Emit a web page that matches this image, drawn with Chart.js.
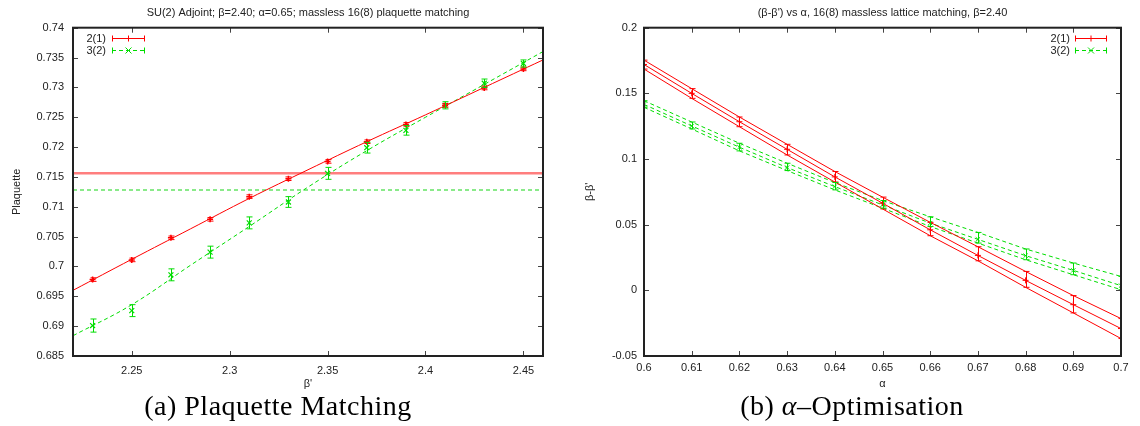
<!DOCTYPE html>
<html><head><meta charset="utf-8">
<script src="https://cdn.jsdelivr.net/npm/chart.js@4.4.0/dist/chart.umd.min.js"></script>
<style>
html,body{margin:0;padding:0;background:#fff;width:1140px;height:426px;overflow:hidden}
.panel{position:absolute;top:0;width:570px;height:426px}
.cap{position:absolute;font-family:"Liberation Serif","DejaVu Serif",serif;font-size:28px;letter-spacing:0.5px;color:#000;white-space:nowrap;transform:translateX(-50%);top:390px;line-height:32px;z-index:5}
</style></head><body>
<div class="panel" style="left:0"><canvas id="c1" width="570" height="426"></canvas></div>
<div class="panel" style="left:570px"><canvas id="c2" width="570" height="426"></canvas></div>
<div class="cap" style="left:278px">(a) Plaquette Matching</div>
<div class="cap" style="left:852px">(b) <i>α</i>–Optimisation</div>
<script>
// ---------- data: panel (a) ----------
const betaPrime = [2.23,2.25,2.27,2.29,2.31,2.33,2.35,2.37,2.39,2.41,2.43,2.45];
const plaq21    = [0.6978,0.7011,0.7048,0.7079,0.7117,0.7147,0.7176,0.7209,0.7238,0.7270,0.7299,0.7331];
const plaq21Err = [0.0003,0.0003,0.0003,0.0003,0.0003,0.0003,0.0003,0.0003,0.0003,0.0003,0.0003,0.0003];
const plaq32    = [0.6901,0.6926,0.6986,0.7024,0.7073,0.7108,0.7156,0.7199,0.7228,0.7270,0.7307,0.7340];
const plaq32Err = [0.0011,0.0010,0.0010,0.0010,0.0010,0.0009,0.0010,0.0009,0.0008,0.0006,0.0007,0.0006];
const fitBeta   = [2.22,2.25,2.28,2.31,2.34,2.37,2.40,2.43,2.46];
const fit21     = [0.6960,0.7012,0.7063,0.7114,0.7162,0.7209,0.7254,0.7300,0.7346];
const fit32     = [0.6884,0.6936,0.7002,0.7067,0.7133,0.7194,0.7250,0.7305,0.7360];
const target21  = 0.7156;
const target32  = 0.7128;
const leftXTicks = [2.25,2.3,2.35,2.4,2.45];
const leftYTicks = [0.685,0.69,0.695,0.7,0.705,0.71,0.715,0.72,0.725,0.73,0.735,0.74];

// ---------- data: panel (b) ----------
const alphaVals = [0.60,0.61,0.62,0.63,0.64,0.65,0.66,0.67,0.68,0.69,0.70];
const dB21   = [0.1720,0.1500,0.1284,0.1074,0.0864,0.0664,0.0461,0.0266,0.0076,-0.0109,-0.0291];
const dB21Hi = [0.1753,0.1536,0.1320,0.1112,0.0905,0.0710,0.0518,0.0332,0.0144,-0.0040,-0.0215];
const dB21Lo = [0.1685,0.1462,0.1246,0.1031,0.0825,0.0620,0.0416,0.0225,0.0023,-0.0172,-0.0367];
const dB32   = [0.1416,0.1252,0.1090,0.0935,0.0790,0.0651,0.0512,0.0388,0.0264,0.0152,0.0036];
const dB32Hi = [0.1444,0.1282,0.1120,0.0968,0.0821,0.0684,0.0560,0.0441,0.0315,0.0208,0.0106];
const dB32Lo = [0.1394,0.1229,0.1062,0.0912,0.0765,0.0626,0.0486,0.0360,0.0233,0.0119,0.0005];
const rightXTicks = [0.6,0.61,0.62,0.63,0.64,0.65,0.66,0.67,0.68,0.69,0.7];
const rightYTicks = [-0.05,0,0.05,0.1,0.15,0.2];

const FONT = '"Liberation Sans", Arial, Helvetica, sans-serif';
const TXT = '#222';
const RED = '#ff0000';
const GREEN = '#00dd00';
const DASH = [4,3];

const pts = (xs, ys) => xs.map((x,i)=>({x, y: ys[i]}));
const fmt = v => String(parseFloat(Number(v).toFixed(4)));

// error bars drawn through the chart scales
const errorBars = {
  id:'errorBars',
  afterDatasetsDraw(chart){
    const {ctx, chartArea:a, scales:{x,y}} = chart;
    ctx.save();
    ctx.beginPath(); ctx.rect(a.left,a.top,a.right-a.left,a.bottom-a.top); ctx.clip();
    chart.data.datasets.forEach(ds=>{
      if(!ds.errLo) return;
      ctx.strokeStyle = ds.errColor; ctx.lineWidth = 1; ctx.setLineDash([]);
      const cap = ds.errCap || 3;
      ds.data.forEach((p,j)=>{
        const px = Math.round(x.getPixelForValue(p.x))+0.5;
        const y1 = y.getPixelForValue(ds.errLo[j]), y2 = y.getPixelForValue(ds.errHi[j]);
        ctx.beginPath();
        ctx.moveTo(px,y1); ctx.lineTo(px,y2);
        ctx.moveTo(px-cap,y1); ctx.lineTo(px+cap,y1);
        ctx.moveTo(px-cap,y2); ctx.lineTo(px+cap,y2);
        ctx.stroke();
      });
    });
    ctx.restore();
  }
};

// gnuplot-like frame with inward ticks on all four sides
const frame = {
  id:'frame',
  afterDraw(chart){
    const {ctx, chartArea:a, scales:{x,y}} = chart;
    ctx.save();
    ctx.strokeStyle = '#444'; ctx.lineWidth = 1; ctx.setLineDash([]);
    const L = 5;
    ctx.beginPath();
    x.ticks.forEach(t=>{
      const px = Math.round(x.getPixelForValue(t.value))+0.5;
      ctx.moveTo(px,a.bottom); ctx.lineTo(px,a.bottom-L);
      ctx.moveTo(px,a.top); ctx.lineTo(px,a.top+L);
    });
    y.ticks.forEach(t=>{
      const py = Math.round(y.getPixelForValue(t.value))+0.5;
      ctx.moveTo(a.left,py); ctx.lineTo(a.left+L,py);
      ctx.moveTo(a.right,py); ctx.lineTo(a.right-L,py);
    });
    ctx.stroke();
    ctx.strokeStyle = '#222'; ctx.lineWidth = 2;
    ctx.strokeRect(a.left,a.top,a.right-a.left,a.bottom-a.top);
    ctx.restore();
  }
};

// gnuplot-style key: text, then a sample with error bar caps and marker
function keyPlugin(items, textRight, x1, x2, y0, dy){
  return {
    id:'key',
    afterDraw(chart){
      const ctx = chart.ctx;
      ctx.save();
      ctx.font = '11px ' + FONT;
      ctx.textAlign = 'right'; ctx.textBaseline = 'middle';
      items.forEach((it,i)=>{
        const yy = Math.round(y0 + i*dy) + 0.5;
        ctx.fillStyle = TXT;
        ctx.fillText(it.text, textRight, yy);
        ctx.strokeStyle = it.color; ctx.lineWidth = 1;
        ctx.setLineDash(it.dash || []);
        ctx.beginPath(); ctx.moveTo(x1,yy); ctx.lineTo(x2,yy); ctx.stroke();
        ctx.setLineDash([]);
        ctx.beginPath();
        ctx.moveTo(x1+0.5,yy-3); ctx.lineTo(x1+0.5,yy+3);
        ctx.moveTo(x2-0.5,yy-3); ctx.lineTo(x2-0.5,yy+3);
        const cx = (x1+x2)/2, r = 3;
        if(it.marker === 'x'){
          ctx.moveTo(cx-r,yy-r); ctx.lineTo(cx+r,yy+r);
          ctx.moveTo(cx-r,yy+r); ctx.lineTo(cx+r,yy-r);
        } else {
          ctx.moveTo(cx,yy-r); ctx.lineTo(cx,yy+r);
        }
        ctx.stroke();
      });
      ctx.restore();
    }
  };
}

function xScale(min,max,ticks,title,pad,titlePad){
  return {
    type:'linear', min, max,
    afterBuildTicks: s => { s.ticks = ticks.map(v=>({value:v})); },
    afterFit: s => { s.height = 70; },
    grid:{display:false, drawTicks:false}, border:{display:false},
    ticks:{padding:pad, color:TXT, font:{family:FONT,size:11}, maxRotation:0, autoSkip:false, callback:v=>fmt(v)},
    title:{display:true, text:title, color:TXT, font:{family:FONT,size:11}, padding:{top:0,bottom:titlePad}}
  };
}
function yScale(min,max,ticks,title,width,pad,titlePad){
  return {
    type:'linear', min, max,
    afterBuildTicks: s => { s.ticks = ticks.map(v=>({value:v})); },
    afterFit: s => { s.width = width; },
    grid:{display:false, drawTicks:false}, border:{display:false},
    ticks:{padding:pad, color:TXT, font:{family:FONT,size:11}, autoSkip:false, callback:v=>fmt(v)},
    title:{display:true, text:title, color:TXT, font:{family:FONT,size:11}, padding:{top:titlePad,bottom:0}}
  };
}
function titleOpts(text){
  return {display:true, text, fullSize:false, color:TXT, font:{family:FONT,size:11,weight:'normal'}, padding:{top:6,bottom:8.5}};
}

// ---------- chart (a) ----------
new Chart(document.getElementById('c1'), {
  type:'scatter',
  data:{datasets:[
    {label:'2(1)', data:pts(betaPrime,plaq21), showLine:false, pointStyle:'cross', pointRadius:3, borderColor:RED, backgroundColor:RED, borderWidth:1.5,
     errLo:plaq21.map((v,i)=>v-plaq21Err[i]), errHi:plaq21.map((v,i)=>v+plaq21Err[i]), errColor:RED, errCap:3},
    {label:'3(2)', data:pts(betaPrime,plaq32), showLine:false, pointStyle:'crossRot', pointRadius:3.5, borderColor:GREEN, backgroundColor:GREEN, borderWidth:1.2,
     errLo:plaq32.map((v,i)=>v-plaq32Err[i]), errHi:plaq32.map((v,i)=>v+plaq32Err[i]), errColor:GREEN, errCap:3},
    {label:'fit 2(1)', data:pts(fitBeta,fit21), showLine:true, pointRadius:0, borderColor:RED, borderWidth:1, tension:0.4},
    {label:'fit 3(2)', data:pts(fitBeta,fit32), showLine:true, pointRadius:0, borderColor:GREEN, borderWidth:1, borderDash:DASH, tension:0.4},
    {label:'target 2(1)', data:pts([2.22,2.46],[target21,target21]), showLine:true, pointRadius:0, borderColor:'rgba(255,40,40,0.6)', borderWidth:2.5},
    {label:'target 3(2)', data:pts([2.22,2.46],[target32,target32]), showLine:true, pointRadius:0, borderColor:'rgba(60,220,60,0.6)', borderWidth:2, borderDash:DASH}
  ]},
  options:{
    responsive:false, animation:false, events:[],
    layout:{padding:{left:0,right:27,top:0,bottom:0}},
    scales:{
      x:xScale(2.22,2.46,leftXTicks,"β'",8,35),
      y:yScale(0.685,0.74,leftYTicks,'Plaquette',73,9,10)
    },
    plugins:{legend:{display:false}, tooltip:{enabled:false},
      title:titleOpts('SU(2) Adjoint; β=2.40; α=0.65; massless 16(8) plaquette matching')}
  },
  plugins:[errorBars, frame, keyPlugin([
    {text:'2(1)', color:RED, marker:'+'},
    {text:'3(2)', color:GREEN, dash:DASH, marker:'x'}], 106, 112, 145, 38, 12)]
});

// ---------- chart (b) ----------
new Chart(document.getElementById('c2'), {
  type:'scatter',
  data:{datasets:[
    {label:'2(1)', data:pts(alphaVals,dB21), showLine:true, pointStyle:'cross', pointRadius:3, borderColor:RED, backgroundColor:RED, borderWidth:1,
     errLo:dB21Lo, errHi:dB21Hi, errColor:RED, errCap:3},
    {label:'2(1) hi', data:pts(alphaVals,dB21Hi), showLine:true, pointRadius:0, borderColor:RED, borderWidth:1},
    {label:'2(1) lo', data:pts(alphaVals,dB21Lo), showLine:true, pointRadius:0, borderColor:RED, borderWidth:1},
    {label:'3(2)', data:pts(alphaVals,dB32), showLine:true, pointStyle:'crossRot', pointRadius:3, borderColor:GREEN, backgroundColor:GREEN, borderWidth:1, borderDash:DASH,
     errLo:dB32Lo, errHi:dB32Hi, errColor:GREEN, errCap:3},
    {label:'3(2) hi', data:pts(alphaVals,dB32Hi), showLine:true, pointRadius:0, borderColor:GREEN, borderWidth:1, borderDash:DASH},
    {label:'3(2) lo', data:pts(alphaVals,dB32Lo), showLine:true, pointRadius:0, borderColor:GREEN, borderWidth:1, borderDash:DASH}
  ]},
  options:{
    responsive:false, animation:false, events:[],
    layout:{padding:{left:0,right:19,top:0,bottom:0}},
    scales:{
      x:xScale(0.6,0.7,rightXTicks,'α',5,35),
      y:yScale(-0.05,0.2,rightYTicks,"β-β'",74,7,13)
    },
    plugins:{legend:{display:false}, tooltip:{enabled:false},
      title:titleOpts("(β-β') vs α, 16(8) massless lattice matching, β=2.40")}
  },
  plugins:[errorBars, frame, keyPlugin([
    {text:'2(1)', color:RED, marker:'+'},
    {text:'3(2)', color:GREEN, dash:DASH, marker:'x'}], 500, 505, 537, 38, 12)]
});
</script>
</body></html>
